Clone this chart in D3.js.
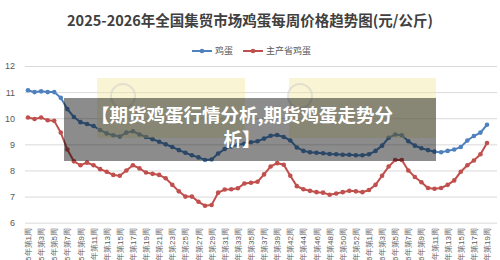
<!DOCTYPE html>
<html lang="zh">
<head>
  <meta charset="UTF-8">
  <title>鸡蛋每周价格趋势图</title>
  <script src="https://cdn.jsdelivr.net/npm/d3@7.6.1/dist/d3.min.js"></script>
  <style>
    body { margin: 0; background: #fff; }
    svg { display: block; font-family: "Noto Sans CJK SC", "Noto Sans", sans-serif; }
  </style>
</head>
<body>
  <div id="box"></div>
  <script>
    const width = 500
    const height = 260

    // 周次：2025年(缺第40周) + 2026年
    const weeks2025 = [1, 2, 3, 4, 5, 6, 7, 8, 9, 10, 11, 12, 13, 14, 15, 16, 17, 18, 19, 20,
      21, 22, 23, 24, 25, 26, 27, 28, 29, 30, 31, 32, 33, 34, 35, 36, 37, 38, 39,
      41, 42, 43, 44, 45, 46, 47, 48, 49, 50, 51, 52, 53]
    const weeks2026 = [1, 2, 3, 4, 5, 6, 7, 8, 9, 10, 11, 12, 13, 14, 15, 16, 17, 18, 19]
    const categories = weeks2025.map(w => `2025年第${w}周`).concat(weeks2026.map(w => `2026年第${w}周`))

    const eggPrice = [11.07, 11.0, 11.03, 11.0, 11.0, 10.78, 10.35, 10.05, 9.85, 9.78,
      9.7, 9.55, 9.42, 9.35, 9.3, 9.45, 9.5, 9.38, 9.28, 9.2,
      9.1, 9.0, 8.9, 8.78, 8.68, 8.58, 8.5, 8.4, 8.42, 8.65,
      8.82, 8.92, 8.98, 9.02, 9.08, 9.12, 9.22, 9.33, 9.36, 9.28,
      9.15, 8.88, 8.75, 8.7, 8.68, 8.66, 8.63, 8.62, 8.6, 8.6,
      8.58, 8.58, 8.62, 8.75, 8.95, 9.25, 9.38, 9.35, 9.12, 8.95,
      8.85, 8.78, 8.72, 8.7, 8.75, 8.8, 8.9, 9.15, 9.32, 9.45, 9.75]
    const mainProvPrice = [10.03, 9.97, 10.03, 9.92, 9.9, 9.45, 8.8, 8.35, 8.2, 8.3,
      8.2, 8.05, 7.95, 7.83, 7.8, 8.0, 8.2, 8.08, 7.92, 7.87,
      7.83, 7.7, 7.45, 7.2, 7.0, 7.0, 6.8, 6.65, 6.68, 7.15,
      7.27, 7.28, 7.32, 7.5, 7.53, 7.57, 7.85, 8.15, 8.28, 8.22,
      7.8, 7.4, 7.28, 7.22, 7.17, 7.15, 7.07, 7.12, 7.17, 7.22,
      7.2, 7.17, 7.25, 7.45, 7.8, 8.15, 8.4, 8.4, 8.0, 7.75,
      7.55, 7.33, 7.3, 7.33, 7.45, 7.62, 7.95, 8.2, 8.38, 8.62, 9.05]
    const yTicks = [6, 7, 8, 9, 10, 11, 12]

    const series = [
      { name: '鸡蛋', values: eggPrice, color: '#4f81bd' },
      { name: '主产省鸡蛋', values: mainProvPrice, color: '#c0504d' }
    ]

    const svg = d3.select('#box').append('svg')
      .attr('width', width)
      .attr('height', height)

    const xScale = d3.scalePoint().domain(categories).range([28, 487])
    const yScale = d3.scaleLinear().domain([6, 12]).range([222.7, 66])

    // 标题
    svg.append('text')
      .attr('x', 250).attr('y', 26)
      .attr('text-anchor', 'middle')
      .attr('font-size', 14.5)
      .attr('font-weight', 'bold')
      .attr('fill', '#404040')
      .text('2025-2026年全国集贸市场鸡蛋每周价格趋势图(元/公斤)')

    // 图例
    const legendX = [192, 243]
    series.forEach((s, i) => {
      const g = svg.append('g').attr('transform', `translate(${legendX[i]},51)`)
      g.append('line').attr('x1', 0).attr('x2', 20).attr('stroke', s.color).attr('stroke-width', 2)
      g.append('circle').attr('cx', 10).attr('r', 2.3).attr('fill', s.color)
      g.append('text').attr('x', 23).attr('y', 3.2).attr('font-size', 9).attr('fill', '#595959').text(s.name)
    })

    // Y轴网格与刻度
    const yAxis = d3.axisLeft(yScale).tickValues(yTicks).tickFormat(d3.format('d')).tickSize(-472).tickPadding(10)
    svg.append('g')
      .attr('transform', 'translate(25,0)')
      .call(yAxis)
      .call(g => g.select('.domain').remove())
      .call(g => g.selectAll('.tick line').attr('stroke', '#d9d9d9'))
      .call(g => g.selectAll('.tick text').attr('fill', '#595959').attr('font-size', 9))

    // X轴标签（隔一个显示，竖排）
    const xAxis = d3.axisBottom(xScale)
      .tickValues(categories.filter((d, i) => i % 2 === 0))
      .tickSize(0)
    svg.append('g')
      .attr('transform', 'translate(0,228)')
      .call(xAxis)
      .call(g => g.select('.domain').remove())
      .call(g => g.selectAll('.tick text')
        .attr('fill', '#595959')
        .attr('font-size', 8)
        .attr('text-anchor', 'end')
        .attr('transform', 'rotate(-90)')
        .attr('x', 0)
        .attr('y', 0)
        .attr('dy', '0.32em'))

    // 折线
    const line = d3.line()
      .x((d, i) => xScale(categories[i]))
      .y(d => yScale(d))

    series.forEach(s => {
      svg.append('path')
        .datum(s.values)
        .attr('fill', 'none')
        .attr('stroke', s.color)
        .attr('stroke-width', 2)
        .attr('d', line)
      svg.append('g').selectAll('circle')
        .data(s.values)
        .join('circle')
        .attr('cx', (d, i) => xScale(categories[i]))
        .attr('cy', d => yScale(d))
        .attr('r', 2.3)
        .attr('fill', s.color)
    })

    // 水印
    const wm = svg.append('g')
    wm.selectAll('rect')
      .data([[97, 245], [289, 436]])
      .join('rect')
      .attr('x', d => d[0]).attr('y', 78)
      .attr('width', d => d[1] - d[0]).attr('height', 60)
      .attr('fill', '#efe7a0').attr('opacity', 0.45)
    wm.selectAll('circle')
      .data([123, 300])
      .join('circle')
      .attr('cx', d => d).attr('cy', 96).attr('r', 12)
      .attr('fill', 'none').attr('stroke', '#ccc').attr('stroke-width', 2).attr('opacity', 0.5)

    // 遮罩与文字
    svg.append('rect')
      .attr('x', 64).attr('y', 98)
      .attr('width', 372).attr('height', 63)
      .attr('fill', '#000').attr('opacity', 0.45)
    const cap = svg.append('text')
      .attr('text-anchor', 'middle')
      .attr('font-size', 18.5)
      .attr('font-weight', 'bold')
      .attr('fill', '#fff')
    cap.append('tspan').attr('x', 242).attr('y', 122).text('【期货鸡蛋行情分析,期货鸡蛋走势分')
    cap.append('tspan').attr('x', 242).attr('y', 146).text('析】')
  </script>
</body>
</html>
